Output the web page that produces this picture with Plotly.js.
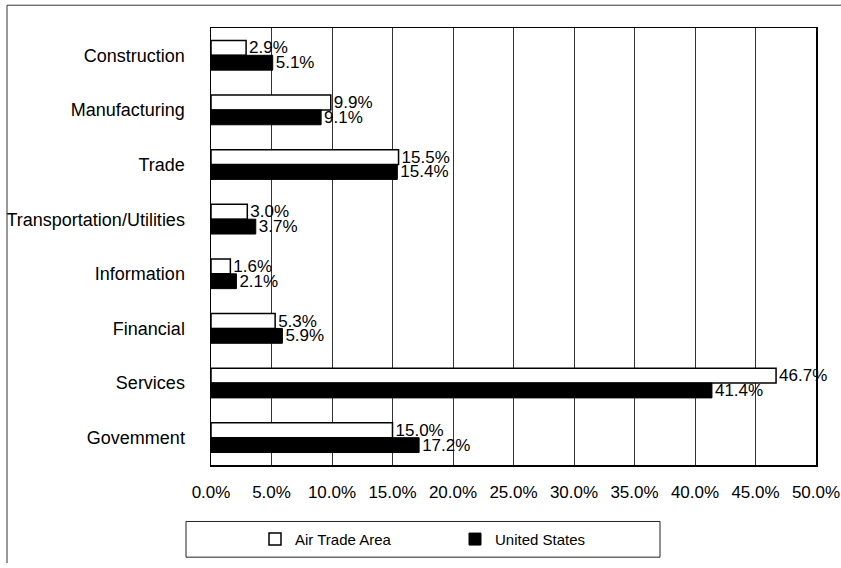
<!DOCTYPE html>
<html>
<head>
<meta charset="utf-8">
<script src="https://cdn.plot.ly/plotly-3.0.1.min.js"></script>
<style>html,body{margin:0;padding:0;background:#fff;}#chart{width:841px;height:568px;}</style>
</head>
<body>
<div id="chart"></div>
<script>
const categories = ["Construction", "Manufacturing", "Trade", "Transportation/Utilities", "Information", "Financial", "Services", "Government"];
const categoryLabels = ["Construction", "Manufacturing", "Trade", "Transportation/Utilities", "Information", "Financial", "Services", "Govemment"];
const airTradeArea = [2.9, 9.9, 15.5, 3.0, 1.6, 5.3, 46.7, 15.0];
const unitedStates = [5.1, 9.1, 15.4, 3.7, 2.1, 5.9, 41.4, 17.2];
const tickValues = [0, 5, 10, 15, 20, 25, 30, 35, 40, 45, 50];
const tickLabels = ["0.0%", "5.0%", "10.0%", "15.0%", "20.0%", "25.0%", "30.0%", "35.0%", "40.0%", "45.0%", "50.0%"];
const seriesNames = ["Air Trade Area", "United States"];

const FONT = '"Liberation Sans", Arial, sans-serif';
const fmt = v => v.toFixed(1) + '%';

const traces = [
  {
    type: 'bar', orientation: 'h', name: seriesNames[0],
    y: categories, x: airTradeArea,
    text: airTradeArea.map(fmt), textposition: 'outside', constraintext: 'none', cliponaxis: false,
    textfont: {family: FONT, size: 17, color: '#000'},
    marker: {color: '#ffffff', line: {color: '#000', width: 1.5}},
    hoverinfo: 'skip'
  },
  {
    type: 'bar', orientation: 'h', name: seriesNames[1],
    y: categories, x: unitedStates,
    text: unitedStates.map(fmt), textposition: 'outside', constraintext: 'none', cliponaxis: false,
    textfont: {family: FONT, size: 17, color: '#000'},
    marker: {color: '#000000', line: {color: '#000', width: 1}},
    hoverinfo: 'skip'
  }
];

const L = 211, R = 816, T = 28, B = 469;
const px = x => (x - L) / (R - L);
const py = y => (B - y) / (B - T);

const layout = {
  width: 841, height: 568,
  margin: {l: L, r: 841 - R, t: T, b: 568 - B, pad: 0},
  paper_bgcolor: '#fff', plot_bgcolor: '#fff',
  font: {family: FONT, size: 17, color: '#000'},
  barmode: 'group', bargap: 0.457, bargroupgap: 0,
  showlegend: true,
  legend: {
    orientation: 'h', x: px(255), xanchor: 'left', y: py(544), yanchor: 'middle',
    font: {family: FONT, size: 15, color: '#000'},
    entrywidth: 155, entrywidthmode: 'pixels',
    bgcolor: 'rgba(0,0,0,0)', borderwidth: 0, traceorder: 'normal'
  },
  xaxis: {
    range: [0, 50], tickvals: tickValues, ticktext: tickLabels,
    showgrid: true, gridcolor: '#333', gridwidth: 1,
    zeroline: false, showline: true, linecolor: '#000', linewidth: 1.5, mirror: true,
    ticks: '', ticklabelstandoff: 11, fixedrange: true,
    tickfont: {family: FONT, size: 17, color: '#000'}
  },
  yaxis: {
    type: 'category', autorange: 'reversed',
    tickvals: categories, ticktext: categoryLabels,
    showgrid: false, zeroline: false, showline: true, linecolor: '#000', linewidth: 1.5, mirror: true,
    ticks: '', ticklabelstandoff: 21, fixedrange: true,
    tickfont: {family: FONT, size: 18, color: '#000'}
  },
  shapes: [
    {type: 'line', xref: 'paper', yref: 'paper', x0: px(7), x1: px(7), y0: py(5), y1: py(568), line: {color: '#333', width: 1}},
    {type: 'line', xref: 'paper', yref: 'paper', x0: px(7), x1: px(841), y0: py(5), y1: py(5), line: {color: '#333', width: 1}},
    {type: 'rect', xref: 'paper', yref: 'paper', x0: px(186), x1: px(660), y0: py(526), y1: py(562), line: {color: '#222', width: 1}, fillcolor: 'rgba(0,0,0,0)'}
  ]
};

Plotly.newPlot('chart', traces, layout, {displayModeBar: false, staticPlot: true});
</script>
</body>
</html>
